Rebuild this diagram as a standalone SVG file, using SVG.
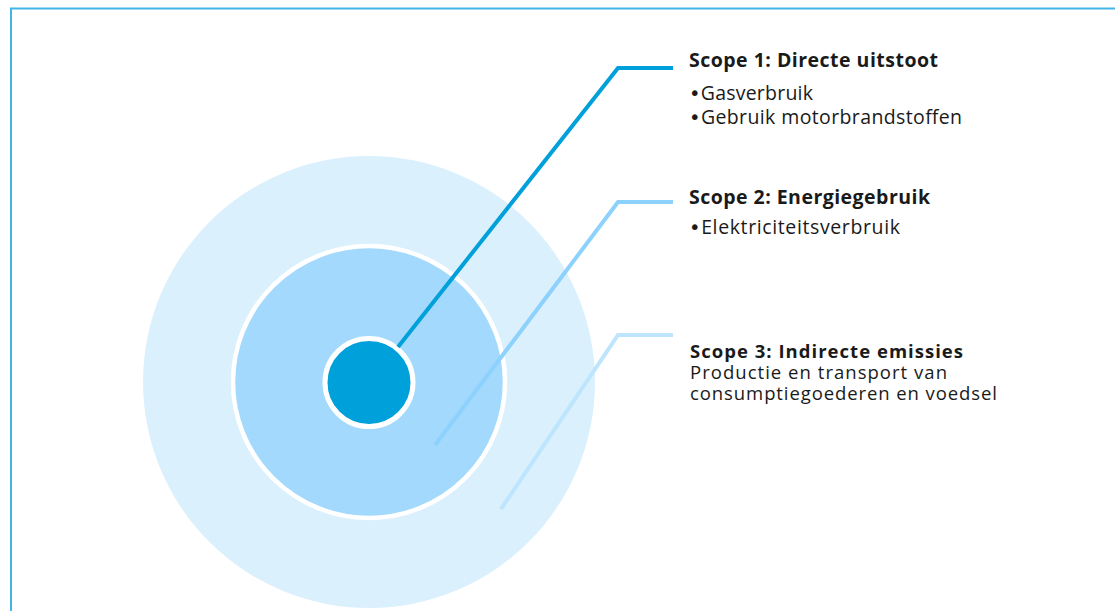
<svg xmlns="http://www.w3.org/2000/svg" width="1115" height="611" viewBox="0 0 1115 611">
  <style>
    .t { font-family: "Open Sans", "Liberation Sans", Arial, sans-serif; fill: #1a1a1a; font-size: 19.5px; }
    .b { font-weight: bold; }
    .s { font-size: 18.5px; }
    .bu { font-family: "DejaVu Sans", sans-serif; }
    .ln { fill: none; stroke-width: 4; stroke-linejoin: miter; stroke-linecap: butt; }
  </style>
  <rect x="0" y="0" width="1115" height="611" fill="#ffffff"/>
  <rect id="frame" x="11" y="8.5" width="1110" height="610" fill="none" stroke="#41b6e6" stroke-width="2"/>
  <g id="scope3-circle">
    <circle cx="369" cy="382" r="226" fill="#dbf0fd"/>
  </g>
  <g id="scope2-circle">
    <circle cx="369" cy="382" r="136" fill="#a3d9fc" stroke="#ffffff" stroke-width="4.5"/>
  </g>
  <g id="scope1-circle">
    <circle cx="369" cy="382.5" r="44" fill="#00a0da" stroke="#ffffff" stroke-width="5"/>
  </g>
  <g id="connectors">
    <polyline class="ln" points="398,347 618,68 673,68" stroke="#00a0da"/>
    <polyline class="ln" points="435,445 618,202 673,202" stroke="#8dd1fd"/>
    <polyline class="ln" points="501,509 618,335 673,335" stroke="#bde5fd"/>
  </g>
  <g id="scope1-label">
    <text class="t b" x="689" y="67" textLength="249" lengthAdjust="spacing">Scope 1: Directe uitstoot</text>
    <text class="t" x="689" y="100" textLength="124" lengthAdjust="spacing"><tspan class="bu">•</tspan>Gasverbruik</text>
    <text class="t" x="689" y="124" textLength="273" lengthAdjust="spacing"><tspan class="bu">•</tspan>Gebruik motorbrandstoffen</text>
  </g>
  <g id="scope2-label">
    <text class="t b" x="689" y="204" textLength="241" lengthAdjust="spacing">Scope 2: Energiegebruik</text>
    <text class="t" x="689" y="234" textLength="211" lengthAdjust="spacing"><tspan class="bu">•</tspan>Elektriciteitsverbruik</text>
  </g>
  <g id="scope3-label">
    <text class="t b s" x="690" y="358" textLength="273" lengthAdjust="spacing">Scope 3: Indirecte emissies</text>
    <text class="t s" x="690" y="379" textLength="257" lengthAdjust="spacing">Productie en transport van</text>
    <text class="t s" x="690" y="400" textLength="307" lengthAdjust="spacing">consumptiegoederen en voedsel</text>
  </g>
</svg>
